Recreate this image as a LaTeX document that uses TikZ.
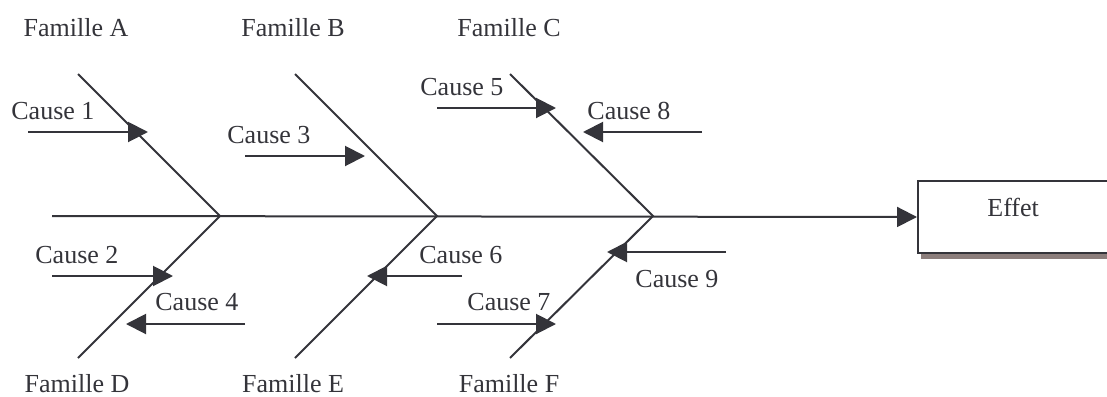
\documentclass[tikz,border=0pt]{standalone}
\usepackage{fontspec}
\setmainfont{Liberation Serif}
\usetikzlibrary{arrows.meta}
\definecolor{inkgray}{RGB}{52,52,58}
\definecolor{shadowbrown}{RGB}{140,126,124}
\tikzset{
  bone/.style={line width=1pt, inkgray},
  spine/.style={line width=1pt, inkgray, -{Triangle[length=10pt,width=10pt]}},
  cause/.style={line width=1pt, inkgray, -{Triangle[length=10pt,width=10pt]}},
  note/.style={font=\fontsize{13}{15}\selectfont, text=inkgray, inner sep=0pt, anchor=base west},
  family/.style={note, anchor=base},
  effetbox/.style={draw=inkgray, line width=1pt, fill=white, inner sep=0pt,
    minimum width=100pt, minimum height=36pt, anchor=north west}
}
\begin{document}
\begin{tikzpicture}[x=0.5pt,y=-0.5pt]
  \useasboundingbox (0,0) rectangle (1107,396);
  \clip (0,0) rectangle (1107,396);

  % spine and junctions
  \coordinate (tail) at (52,216);
  \coordinate (J1) at (220,216);
  \coordinate (J2) at (437,216);
  \coordinate (J3) at (653,216);

  % bone ends
  \coordinate (A) at (78,74);
  \coordinate (B) at (295,74);
  \coordinate (C) at (510,74);
  \coordinate (D) at (78,358);
  \coordinate (E) at (295,358);
  \coordinate (F) at (510,358);

  \fill[shadowbrown] (921,252) rectangle (1120,259);
  \node[effetbox] (effet) at (917,180) {};
  \node[note] (effetlbl) at (987,216) {Effet};
  \draw[spine] (tail) -- (effet.west);

  \draw[bone] (A) -- (J1) -- (D);
  \draw[bone] (B) -- (J2) -- (E);
  \draw[bone] (C) -- (J3) -- (F);

  \node[family] (famA) at (76,36) {Famille A};
  \node[family] (famB) at (293,36) {Famille B};
  \node[family] (famC) at (509,36) {Famille C};
  \node[family] (famD) at (77,392) {Famille D};
  \node[family] (famE) at (293,392) {Famille E};
  \node[family] (famF) at (509,392) {Famille F};

  % causes: start, tip
  \coordinate (c1s) at (28,132);  \coordinate (c1t) at (148,132);
  \coordinate (c2s) at (52,276);  \coordinate (c2t) at (173,276);
  \coordinate (c3s) at (245,156); \coordinate (c3t) at (365,156);
  \coordinate (c4s) at (245,324); \coordinate (c4t) at (126,324);
  \coordinate (c5s) at (437,108); \coordinate (c5t) at (556,108);
  \coordinate (c6s) at (462,276); \coordinate (c6t) at (367,276);
  \coordinate (c7s) at (437,324); \coordinate (c7t) at (556,324);
  \coordinate (c8s) at (702,132); \coordinate (c8t) at (583,132);
  \coordinate (c9s) at (726,252); \coordinate (c9t) at (607,252);

  \draw[cause] (c1s) -- (c1t);
  \draw[cause] (c2s) -- (c2t);
  \draw[cause] (c3s) -- (c3t);
  \draw[cause] (c4s) -- (c4t);
  \draw[cause] (c5s) -- (c5t);
  \draw[cause] (c6s) -- (c6t);
  \draw[cause] (c7s) -- (c7t);
  \draw[cause] (c8s) -- (c8t);
  \draw[cause] (c9s) -- (c9t);

  \node[note] (cause1) at (11,119) {Cause 1};
  \node[note] (cause2) at (35,263) {Cause 2};
  \node[note] (cause3) at (227,143) {Cause 3};
  \node[note] (cause4) at (155,310) {Cause 4};
  \node[note] (cause5) at (420,95) {Cause 5};
  \node[note] (cause6) at (419,263) {Cause 6};
  \node[note] (cause7) at (467,310) {Cause 7};
  \node[note] (cause8) at (587,119) {Cause 8};
  \node[note] (cause9) at (635,287) {Cause 9};
\end{tikzpicture}
\end{document}
